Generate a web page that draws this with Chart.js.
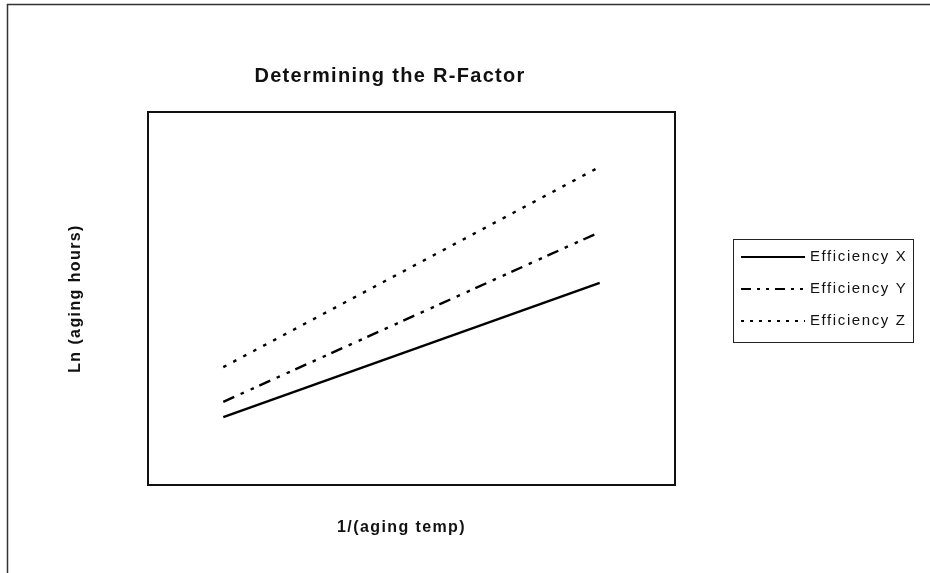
<!DOCTYPE html>
<html>
<head>
<meta charset="utf-8">
<script src="https://cdn.jsdelivr.net/npm/chart.js@4.4.1/dist/chart.umd.min.js"></script>
<style>
  html, body { margin: 0; padding: 0; background: #fff; }
  #wrap { width: 930px; height: 573px; }
</style>
</head>
<body>
<div id="wrap"><canvas id="chart" width="930" height="573"></canvas></div>
<script>
// values (no axis ticks in the original, so arbitrary units)
const xPoints = [1, 6];
const seriesNames = ["Efficiency X", "Efficiency Y", "Efficiency Z"];
const effX = [1.82, 5.42];
const effY = [2.23, 6.78];
const effZ = [3.16, 8.53];

const chartTitle = "Determining the R-Factor";
const xTitle = "1/(aging temp)";
const yTitle = "Ln (aging hours)";

const dashes = [[], [12, 7, 3.5, 7.5, 3.5, 6], [3.5, 7.8]];
const legendDashes = [[], [10, 6, 3, 6, 3, 6], [3, 6]];

function pts(ys) {
  return xPoints.map((x, i) => ({ x: x, y: ys[i] }));
}

const decor = {
  id: "decor",
  beforeDatasetsDraw(chart) {
    const { ctx, chartArea: a } = chart;
    ctx.save();
    // outer frame, only top and left edges are in the picture
    ctx.strokeStyle = "#333";
    ctx.lineWidth = 1.5;
    ctx.beginPath();
    ctx.moveTo(7.5, 573);
    ctx.lineTo(7.5, 4.5);
    ctx.lineTo(930, 4.5);
    ctx.stroke();
    // plot area border
    ctx.strokeStyle = "#111";
    ctx.lineWidth = 2;
    ctx.strokeRect(a.left, a.top, a.right - a.left, a.bottom - a.top);
    ctx.restore();
  },
  afterDraw(chart) {
    const { ctx, chartArea: a } = chart;
    ctx.save();
    ctx.fillStyle = "#111";
    ctx.textAlign = "center";
    ctx.textBaseline = "middle";

    ctx.font = "bold 20px 'Liberation Sans', Arial, sans-serif";
    ctx.letterSpacing = "1.3px";
    ctx.fillText(chartTitle, 390, 76);

    ctx.font = "bold 16px 'Liberation Sans', Arial, sans-serif";
    ctx.letterSpacing = "1.4px";
    ctx.fillText(xTitle, (a.left + a.right) / 2 - 10, 528);

    ctx.save();
    ctx.translate(76, (a.top + a.bottom) / 2);
    ctx.rotate(-Math.PI / 2);
    ctx.fillText(yTitle, 0, 0);
    ctx.restore();

    // legend
    const lx = 733, ly = 239, lw = 180, lh = 103;
    ctx.strokeStyle = "#222";
    ctx.lineWidth = 1;
    ctx.strokeRect(lx + 0.5, ly + 0.5, lw, lh);
    const rows = [257, 289, 321];
    ctx.font = "15px 'Liberation Sans', Arial, sans-serif";
    ctx.letterSpacing = "1.6px";
    ctx.textAlign = "left";
    chart.data.datasets.forEach((ds, i) => {
      ctx.beginPath();
      ctx.setLineDash(legendDashes[i]);
      ctx.lineWidth = 2;
      ctx.strokeStyle = "#000";
      ctx.moveTo(741, rows[i]);
      ctx.lineTo(805, rows[i]);
      ctx.stroke();
      ctx.setLineDash([]);
      ctx.fillText(ds.label, 810, rows[i]);
    });
    ctx.restore();
  }
};

new Chart(document.getElementById("chart"), {
  type: "line",
  data: {
    datasets: [
      { label: seriesNames[0], data: pts(effX), borderDash: dashes[0] },
      { label: seriesNames[1], data: pts(effY), borderDash: dashes[1] },
      { label: seriesNames[2], data: pts(effZ), borderDash: dashes[2] }
    ].map(d => Object.assign(d, {
      borderColor: "#000",
      borderWidth: 2.4,
      pointRadius: 0,
      tension: 0,
      fill: false
    }))
  },
  options: {
    responsive: false,
    animation: false,
    devicePixelRatio: 1,
    layout: { padding: { left: 148, top: 112, right: 255, bottom: 88 } },
    plugins: { legend: { display: false }, title: { display: false }, tooltip: { enabled: false } },
    scales: {
      x: { type: "linear", min: 0, max: 7, display: false },
      y: { type: "linear", min: 0, max: 10, display: false }
    }
  },
  plugins: [decor]
});
</script>
</body>
</html>
